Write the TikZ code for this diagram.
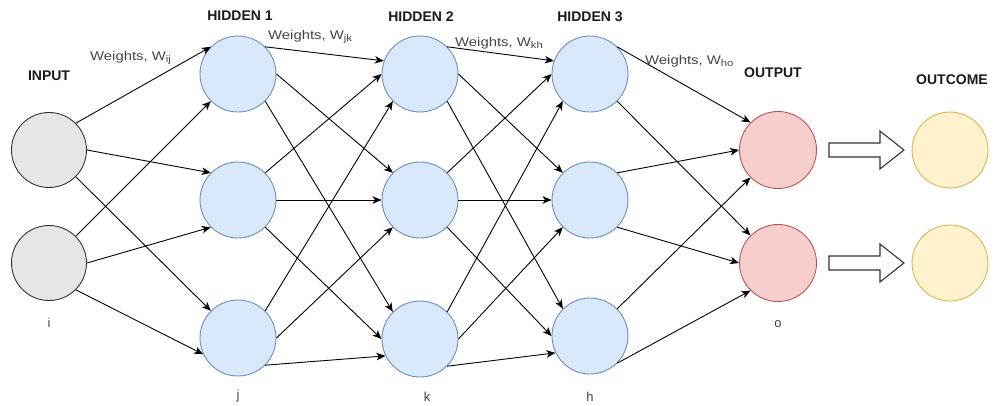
\documentclass[tikz,border=0pt]{standalone}
\usepackage{fontspec}
\setmainfont{Liberation Sans}
\usepackage{graphicx}
\usetikzlibrary{arrows.meta}
\definecolor{inpfill}{HTML}{E6E6E6}
\definecolor{inpdraw}{HTML}{333333}
\definecolor{hidfill}{HTML}{DAE8FC}
\definecolor{hiddraw}{HTML}{6C8EBF}
\definecolor{outfill}{HTML}{F8CECC}
\definecolor{outdraw}{HTML}{B85450}
\definecolor{resfill}{HTML}{FFF2CC}
\definecolor{resdraw}{HTML}{D6B656}
\definecolor{txtgray}{HTML}{444444}
\definecolor{titlecol}{HTML}{1A1A1A}
\newcommand{\wlabel}[2]{\scalebox{1.18}[1]{Weights, W\raisebox{-0.3ex}{\fontsize{9.5}{10}\selectfont #2}}}
\begin{document}
\begin{tikzpicture}[x=1pt,y=-1pt,
  neuron/.style={circle, inner sep=0pt, minimum size=76pt, line width=0.9pt},
  inp/.style={neuron, fill=inpfill, draw=inpdraw, minimum size=75pt},
  hid/.style={neuron, fill=hidfill, draw=hiddraw},
  outn/.style={neuron, fill=outfill, draw=outdraw, minimum size=77pt},
  res/.style={neuron, fill=resfill, draw=resdraw},
  edge/.style={line width=0.9pt, black, -{Stealth[length=9pt,width=7.5pt,inset=2.5pt]}},
  title/.style={anchor=base, text=titlecol, font=\fontsize{14}{16}\selectfont\bfseries, inner sep=0pt},
  wtext/.style={anchor=base west, text=txtgray, font=\fontsize{12.6}{15}\selectfont, inner sep=0pt},
  idx/.style={anchor=base, text=txtgray, font=\fontsize{13}{15}\selectfont, inner sep=0pt},
  blockarr/.pic={\draw[line width=1.1pt, draw=inpdraw, fill=white, line join=miter]
     (0,-7) -- (51,-7) -- (51,-19) -- (75,0) -- (51,19) -- (51,7) -- (0,7) -- cycle;}
]
\useasboundingbox (0,0) rectangle (995,405);

% neurons
\node[inp] (i1) at (49,150) {};
\node[inp] (i2) at (49,263) {};
\node[hid] (a1) at (238,74) {};
\node[hid] (a2) at (238,200) {};
\node[hid] (a3) at (238,338) {};
\node[hid] (b1) at (420,74) {};
\node[hid] (b2) at (420,200) {};
\node[hid] (b3) at (420,339) {};
\node[hid] (c1) at (590,74) {};
\node[hid] (c2) at (590,200) {};
\node[hid] (c3) at (590,336) {};
\node[outn] (o1) at (778,150) {};
\node[outn] (o2) at (778,263) {};
\node[res] (u1) at (950,150) {};
\node[res] (u2) at (950,263) {};

% input -> hidden 1
\draw[edge] (i1.45) -- (a1.135);
\draw[edge] (i1.0) -- (a2.135);
\draw[edge] (i1.-45) -- (a3.135);
\draw[edge] (i2.45) -- (a1.225);
\draw[edge] (i2.0) -- (a2.225);
\draw[edge] (i2.-45) -- (a3.205);

% hidden 1 -> hidden 2
\draw[edge] (a1.45) -- (b1.160);
\draw[edge] (a1.0) -- (b2.135);
\draw[edge] (a1.-45) -- (b3.135);
\draw[edge] (a2.45) -- (b1.180);
\draw[edge] (a2.0) -- (b2.180);
\draw[edge] (a2.-45) -- (b3.180);
\draw[edge] (a3.45) -- (b1.225);
\draw[edge] (a3.0) -- (b2.225);
\draw[edge] (a3.-45) -- (b3.206);

% hidden 2 -> hidden 3
\draw[edge] (b1.45) -- (c1.160);
\draw[edge] (b1.0) -- (c2.135);
\draw[edge] (b1.-45) -- (c3.135);
\draw[edge] (b2.45) -- (c1.180);
\draw[edge] (b2.0) -- (c2.180);
\draw[edge] (b2.-45) -- (c3.180);
\draw[edge] (b3.45) -- (c1.225);
\draw[edge] (b3.0) -- (c2.225);
\draw[edge] (b3.-45) -- (c3.206);

% hidden 3 -> output
\draw[edge] (c1.45) -- (o1.135);
\draw[edge] (c1.-45) -- (o2.135);
\draw[edge] (c2.45) -- (o1.180);
\draw[edge] (c2.-45) -- (o2.180);
\draw[edge] (c3.45) -- (o1.225);
\draw[edge] (c3.-45) -- (o2.225);

% output -> outcome block arrows
\path (o1.east) ++(12,0) pic {blockarr};
\path (o2.east) ++(12,0) pic {blockarr};

% titles
\node[title] (tin) at (49,80) {INPUT};
\node[title] (th1) at (240,20) {HIDDEN 1};
\node[title] (th2) at (421,21) {HIDDEN 2};
\node[title] (th3) at (590,21) {HIDDEN 3};
\node[title] (tout) at (773,77) {OUTPUT};
\node[title] (tres) at (952,84) {OUTCOME};

% weights
\node[wtext] (wij) at (90,60) {\wlabel{}{ij}};
\node[wtext] (wjk) at (268,39) {\wlabel{}{jk}};
\node[wtext] (wkh) at (455,46) {\wlabel{}{kh}};
\node[wtext] (who) at (645,64) {\wlabel{}{ho}};

% indices
\node[idx] (li) at (49,327) {i};
\node[idx] (lj) at (238,399) {j};
\node[idx] (lk) at (427,401) {k};
\node[idx] (lh) at (590,401) {h};
\node[idx] (lo) at (778,327) {o};
\end{tikzpicture}
\end{document}
